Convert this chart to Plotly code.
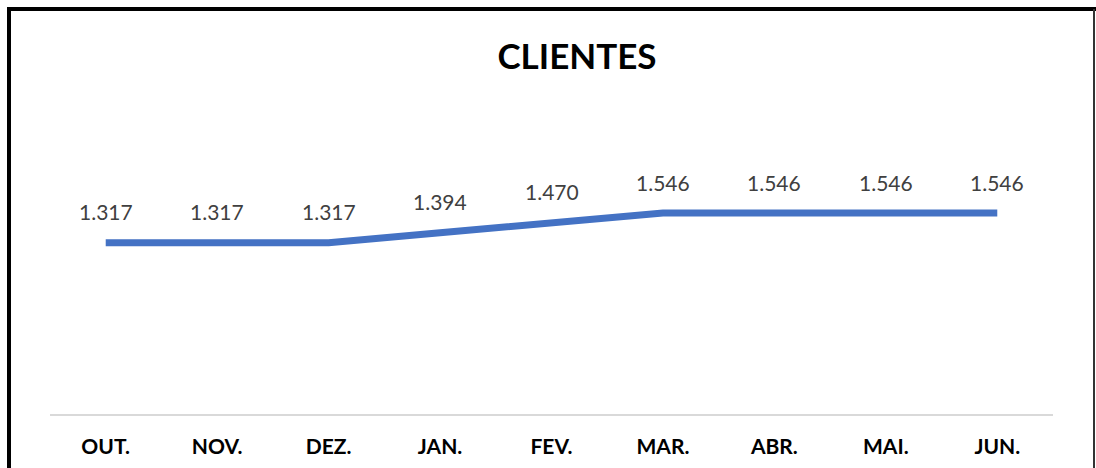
import plotly.graph_objects as go

months = ["OUT.", "NOV.", "DEZ.", "JAN.", "FEV.", "MAR.", "ABR.", "MAI.", "JUN."]
clientes = [1317, 1317, 1317, 1394, 1470, 1546, 1546, 1546, 1546]

W, H = 1096, 468
L, R, T, B = 50, 43, 180, 54
pw, ph = W - L - R, H - T - B

def px_x(p):
    return (p - L) / pw

def px_y(p):
    return (H - B - p) / ph

fig = go.Figure()
fig.add_trace(go.Scatter(
    x=months, y=clientes, mode="lines",
    line=dict(color="#4472C4", width=7),
    hoverinfo="skip", showlegend=False,
))

for m, v in zip(months, clientes):
    fig.add_annotation(
        x=m, y=v, text=f"{v:,}".replace(",", "."), showarrow=False,
        yshift=31, font=dict(family="Lato", size=21, color="#404040"),
    )

shapes = [
    dict(type="line", xref="paper", yref="paper", x0=px_x(7), x1=px_x(1096),
         y0=px_y(9), y1=px_y(9), line=dict(color="black", width=4)),
    dict(type="line", xref="paper", yref="paper", x0=px_x(9), x1=px_x(9),
         y0=px_y(7), y1=px_y(470), line=dict(color="black", width=4)),
    dict(type="line", xref="paper", yref="paper", x0=px_x(1094), x1=px_x(1094),
         y0=px_y(9), y1=px_y(470), line=dict(color="#333333", width=2)),
]

fig.update_layout(
    width=W, height=H,
    margin=dict(l=L, r=R, t=T, b=B, autoexpand=False),
    paper_bgcolor="white", plot_bgcolor="white",
    title=dict(text="<b>CLIENTES</b>", x=577 / W, xanchor="center",
               y=1 - 57 / H, yanchor="middle", yref="container",
               font=dict(family="Lato", size=35, color="black")),
    xaxis=dict(showline=True, linecolor="#D9D9D9", linewidth=1.5,
               range=[-0.5, len(months) - 0.5], automargin=False,
               showgrid=False, ticks="", ticklabelstandoff=13,
               tickfont=dict(family="Lato", size=21, color="black", weight="bold")),
    yaxis=dict(range=[0, 1800], visible=False, showgrid=False, zeroline=False,
               automargin=False),
    shapes=shapes,
)

fig.write_html("out.html", config={"displayModeBar": False},
               post_script="document.body.style.margin='0';document.body.style.overflow='hidden';")
